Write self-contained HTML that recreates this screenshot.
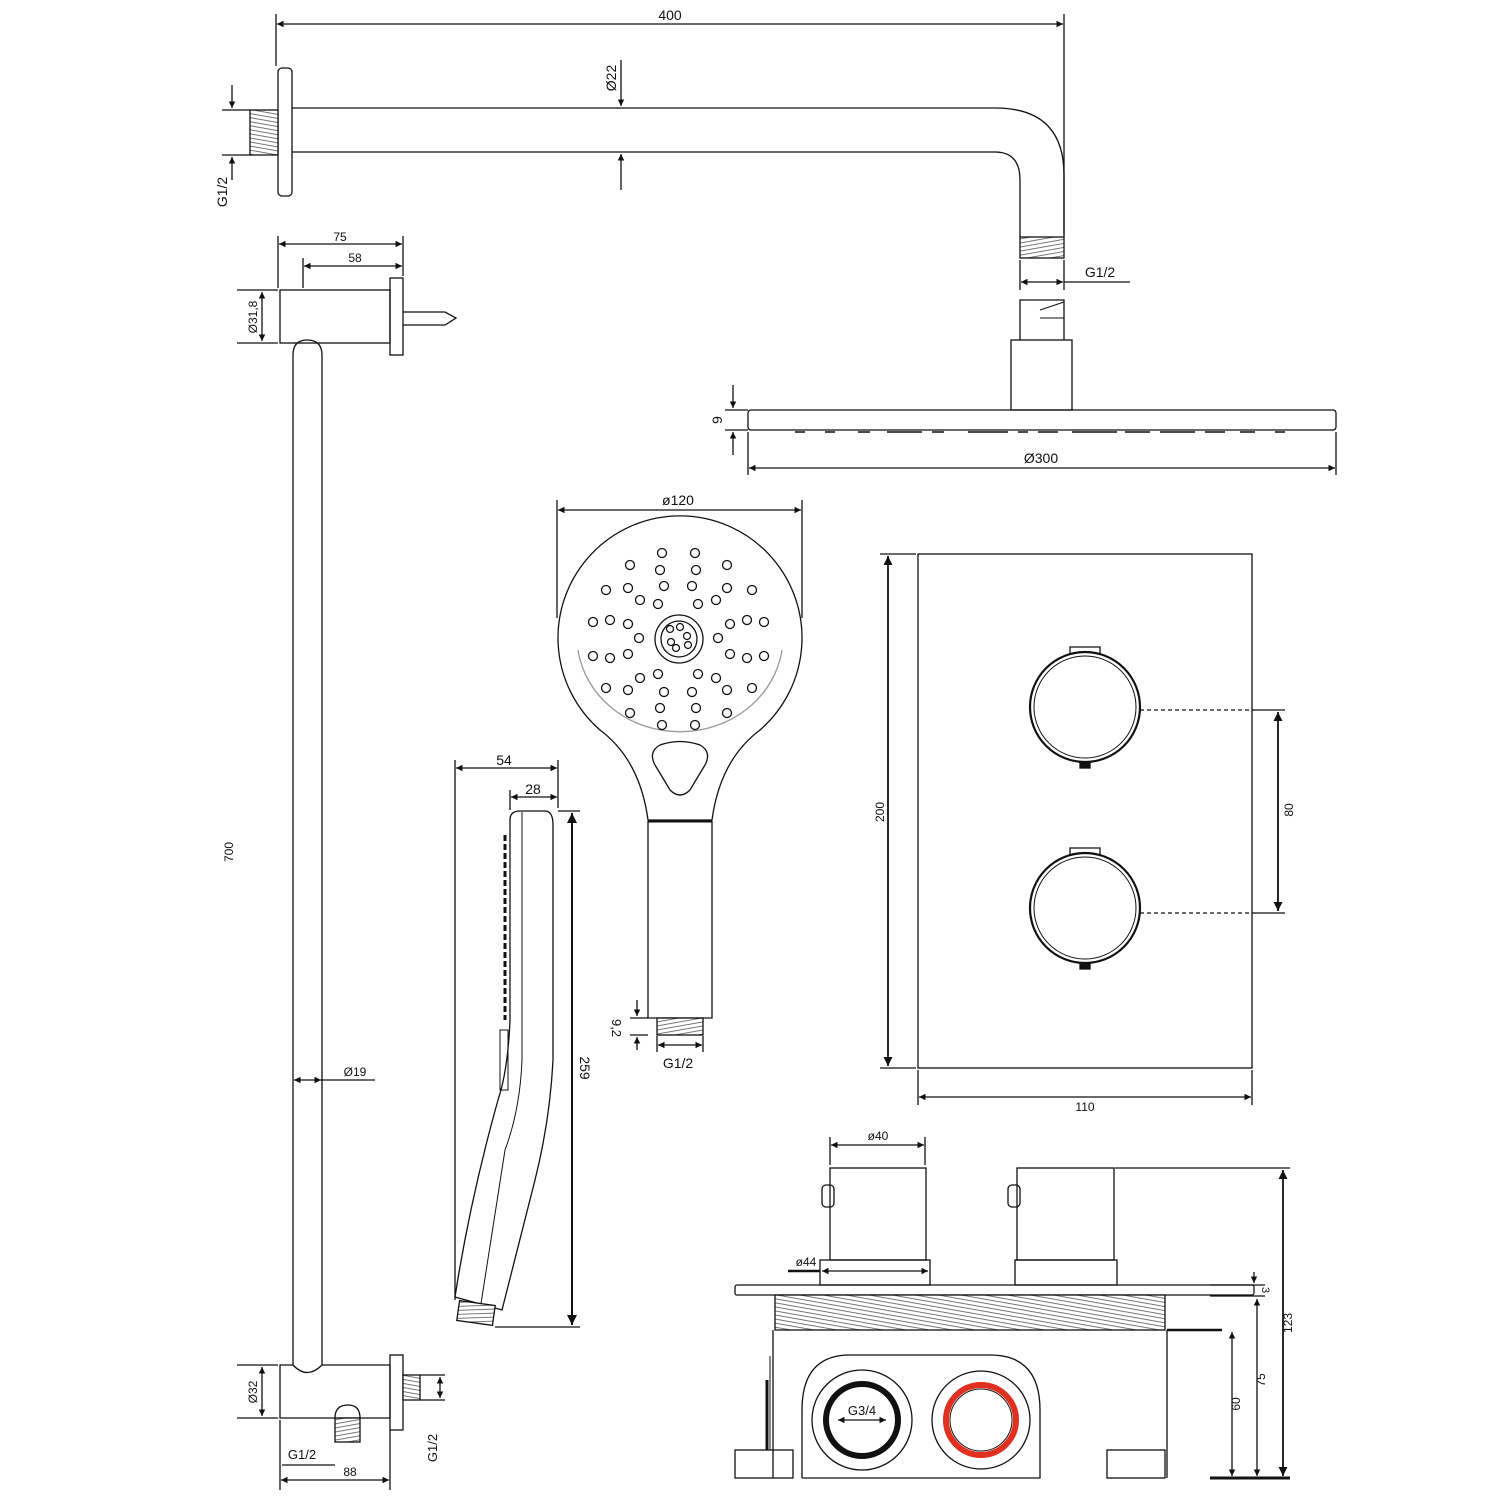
<!DOCTYPE html>
<html><head><meta charset="utf-8"><style>
html,body{margin:0;padding:0;background:#fff;}
svg{display:block;}
text{font-family:"Liberation Sans",sans-serif;fill:#111;}
</style></head><body>
<svg width="1500" height="1500" viewBox="0 0 1500 1500" xmlns="http://www.w3.org/2000/svg">
<defs>
<marker id="a" viewBox="0 0 10 10" refX="10" refY="5" markerWidth="7" markerHeight="5" orient="auto-start-reverse"><path d="M0,0 L10,5 L0,10 z" fill="#111"/></marker>
<pattern id="th" width="4" height="4" patternUnits="userSpaceOnUse" patternTransform="rotate(80)"><rect width="4" height="4" fill="#fff"/><line x1="0" y1="0" x2="0" y2="4" stroke="#555" stroke-width="1.6"/></pattern>
<pattern id="th2" width="4" height="4" patternUnits="userSpaceOnUse" patternTransform="rotate(10)"><rect width="4" height="4" fill="#fff"/><line x1="0" y1="0" x2="4" y2="0" stroke="#555" stroke-width="1.6"/></pattern>
</defs>
<g fill="none" stroke="#111" stroke-width="1.3">
<line x1="276" y1="14" x2="276" y2="66"/><line x1="1064" y1="14" x2="1064" y2="235"/>
<line x1="277" y1="24" x2="1063" y2="24" marker-start="url(#a)" marker-end="url(#a)"/>
<rect x="278" y="68" width="14" height="128" rx="4"/>
<rect x="250" y="110" width="28" height="45" fill="url(#th2)"/>
<path d="M292,108 H995 Q1064,108 1064,175 V237"/>
<path d="M292,152 H995 Q1020,152 1020,180 V237"/>
<rect x="1020" y="237" width="44" height="21" fill="url(#th)"/>
<line x1="621" y1="60" x2="621" y2="106" marker-end="url(#a)"/><line x1="621" y1="190" x2="621" y2="154" marker-end="url(#a)"/>
<line x1="232" y1="85" x2="232" y2="108" marker-end="url(#a)"/><line x1="232" y1="180" x2="232" y2="157" marker-end="url(#a)"/>
<line x1="222" y1="110" x2="250" y2="110"/><line x1="222" y1="155" x2="250" y2="155"/>
<line x1="1020" y1="260" x2="1020" y2="290"/><line x1="1064" y1="260" x2="1064" y2="290"/>
<line x1="1021" y1="282" x2="1063" y2="282" marker-start="url(#a)" marker-end="url(#a)"/><line x1="1064" y1="282" x2="1130" y2="282"/>
<path d="M1020,340 V300 H1064 V340"/><path d="M1040,310 L1064,302 M1040,318 L1064,318" stroke-width="1"/>
<rect x="1011" y="340" width="61" height="70"/>
<rect x="748" y="410" width="588" height="20" rx="3"/>
<g stroke-width="1.5">
<path d="M795,432 h10 M825,432 h10 M858,432 h12 M887,432 h35 M932,432 h12 M968,432 h40 M1018,432 h10 M1038,432 h20 M1072,432 h45 M1125,432 h25 M1160,432 h35 M1205,432 h20 M1240,432 h15 M1275,432 h10"/>
</g>
<line x1="748" y1="432" x2="748" y2="475"/><line x1="1336" y1="432" x2="1336" y2="475"/>
<line x1="749" y1="468" x2="1335" y2="468" marker-start="url(#a)" marker-end="url(#a)"/>
<line x1="733" y1="385" x2="733" y2="408" marker-end="url(#a)"/><line x1="733" y1="455" x2="733" y2="432" marker-end="url(#a)"/>
<line x1="725" y1="410" x2="748" y2="410"/><line x1="725" y1="430" x2="748" y2="430"/>
<line x1="278" y1="236" x2="278" y2="288"/><line x1="403" y1="236" x2="403" y2="276"/><line x1="303" y1="258" x2="303" y2="288"/>
<line x1="279" y1="244" x2="402" y2="244" marker-start="url(#a)" marker-end="url(#a)"/>
<line x1="304" y1="266" x2="402" y2="266" marker-start="url(#a)" marker-end="url(#a)"/>
<rect x="280" y="290" width="110" height="53"/>
<rect x="390" y="278" width="13" height="77"/>
<path d="M403,312 H445 L456,318 L445,325 H403"/>
<path d="M293,1365 V355 Q293,340 307,340 Q322,340 322,355 V1365"/>
<path d="M280,1365 H293 Q307,1380 322,1365 H390 V1418 H280 Z"/>
<rect x="390" y="1355" width="13" height="75"/>
<rect x="403" y="1375" width="17" height="25" fill="url(#th2)"/>
<path d="M335,1418 Q335,1405 348,1405 Q360,1405 360,1418"/>
<rect x="335" y="1418" width="25" height="24" fill="url(#th)"/>
<line x1="237" y1="290" x2="278" y2="290"/><line x1="237" y1="343" x2="278" y2="343"/>
<line x1="262" y1="292" x2="262" y2="341" marker-start="url(#a)" marker-end="url(#a)"/>
<line x1="237" y1="1365" x2="278" y2="1365"/><line x1="237" y1="1418" x2="278" y2="1418"/>
<line x1="262" y1="1367" x2="262" y2="1416" marker-start="url(#a)" marker-end="url(#a)"/>
<line x1="294" y1="1080" x2="321" y2="1080" marker-start="url(#a)" marker-end="url(#a)"/><line x1="321" y1="1080" x2="375" y2="1080"/>
<line x1="280" y1="1420" x2="280" y2="1490"/><line x1="390" y1="1430" x2="390" y2="1490"/>
<line x1="281" y1="1480" x2="389" y2="1480" marker-start="url(#a)" marker-end="url(#a)"/>
<line x1="282" y1="1465" x2="335" y2="1465"/>
<line x1="420" y1="1375" x2="445" y2="1375"/><line x1="420" y1="1400" x2="445" y2="1400"/>
<line x1="440" y1="1377" x2="440" y2="1398" marker-start="url(#a)" marker-end="url(#a)"/>
<line x1="557" y1="500" x2="557" y2="618"/><line x1="802" y1="500" x2="802" y2="618"/>
<line x1="558" y1="510" x2="801" y2="510" marker-start="url(#a)" marker-end="url(#a)"/>
<path d="M648,820 Q640,760 600,730 A122,122 0 1 1 760,730 Q720,760 712,820 Z"/>
<path d="M578,650 A103,95 0 0 0 782,650" stroke="#999"/>
<path d="M660,745 Q680,738 700,745 Q712,752 705,765 L690,790 Q680,800 670,790 L655,765 Q648,752 660,745 Z"/>
<line x1="648" y1="821" x2="712" y2="821" stroke-width="3"/>
<path d="M648,821 V1018 H712 V821"/>
<rect x="657" y="1018" width="46" height="17" fill="url(#th)"/>
<circle cx="679" cy="639" r="24"/><circle cx="679" cy="639" r="18"/>
<g stroke-width="1.2">
<circle cx="670" cy="629" r="3.5"/><circle cx="680" cy="627" r="3.5"/><circle cx="687" cy="636" r="3.5"/><circle cx="688" cy="645" r="3.5"/><circle cx="671" cy="642" r="3.5"/><circle cx="676" cy="648" r="3.5"/>
</g>
<line x1="648" y1="1018" x2="630" y2="1018"/><line x1="648" y1="1035" x2="630" y2="1035"/>
<line x1="637" y1="1000" x2="637" y2="1016" marker-end="url(#a)"/><line x1="637" y1="1050" x2="637" y2="1037" marker-end="url(#a)"/>
<line x1="657" y1="1036" x2="657" y2="1052"/><line x1="703" y1="1036" x2="703" y2="1052"/>
<line x1="658" y1="1045" x2="702" y2="1045" marker-start="url(#a)" marker-end="url(#a)"/>
<line x1="455" y1="760" x2="455" y2="1300"/><line x1="558" y1="760" x2="558" y2="808"/><line x1="510" y1="790" x2="510" y2="810"/>
<line x1="456" y1="768" x2="557" y2="768" marker-start="url(#a)" marker-end="url(#a)"/>
<line x1="511" y1="797" x2="557" y2="797" marker-start="url(#a)" marker-end="url(#a)"/>
<line x1="558" y1="811" x2="580" y2="811"/><line x1="495" y1="1327" x2="580" y2="1327"/>
<line x1="572" y1="813" x2="572" y2="1325" marker-start="url(#a)" marker-end="url(#a)" stroke-width="2"/>
<path d="M510,1020 V820 Q510,811 520,811 H545 Q553,811 553,825 V1060 Q550,1120 535,1180 L502,1310 L455,1297 Q470,1200 498,1100 Q508,1070 510,1020"/>
<path d="M522,812 V1060 Q520,1110 505,1150 L480,1310" stroke-width="1"/>
<path d="M505,835 V1020" stroke-width="3" stroke-dasharray="6,3"/>
<path d="M500,1030 H508 V1090 H500 Z" stroke-width="1"/>
<rect x="458" y="1303" width="36" height="20" fill="url(#th)" transform="rotate(8 476 1313)"/>
<rect x="918" y="554" width="334" height="514"/>
<circle cx="1085" cy="707" r="55" stroke-width="2.2"/><circle cx="1085" cy="707" r="51" stroke-width="1"/>
<circle cx="1085" cy="908" r="55" stroke-width="2.2"/><circle cx="1085" cy="908" r="51" stroke-width="1"/>
<path d="M1070,654 V647 H1100 V654"/><path d="M1070,855 V848 H1100 V855"/>
<rect x="1080" y="762" width="10" height="6" fill="#111"/><rect x="1080" y="963" width="10" height="6" fill="#111"/>
<line x1="1140" y1="710" x2="1252" y2="710" stroke-dasharray="4,3"/><line x1="1252" y1="710" x2="1285" y2="710"/>
<line x1="1140" y1="913" x2="1252" y2="913" stroke-dasharray="4,3"/><line x1="1252" y1="913" x2="1285" y2="913"/>
<line x1="1278" y1="712" x2="1278" y2="911" marker-start="url(#a)" marker-end="url(#a)" stroke-width="1.8"/>
<line x1="880" y1="554" x2="916" y2="554"/><line x1="880" y1="1068" x2="916" y2="1068"/>
<line x1="888" y1="556" x2="888" y2="1066" marker-start="url(#a)" marker-end="url(#a)" stroke-width="1.8"/>
<line x1="918" y1="1070" x2="918" y2="1105"/><line x1="1252" y1="1070" x2="1252" y2="1105"/>
<line x1="919" y1="1097" x2="1251" y2="1097" marker-start="url(#a)" marker-end="url(#a)"/>
<line x1="830" y1="1137" x2="830" y2="1165"/><line x1="925" y1="1137" x2="925" y2="1165"/>
<line x1="831" y1="1145" x2="924" y2="1145" marker-start="url(#a)" marker-end="url(#a)"/>
<rect x="830" y="1168" width="96" height="92"/><rect x="820" y="1260" width="110" height="25"/>
<rect x="1017" y="1168" width="97" height="92"/><rect x="1015" y="1260" width="102" height="25"/>
<rect x="822" y="1185" width="12" height="22" rx="4"/><rect x="1008" y="1185" width="12" height="22" rx="4"/>
<line x1="788" y1="1271" x2="820" y2="1271" stroke-width="2.5"/><line x1="822" y1="1271" x2="928" y2="1271" marker-start="url(#a)" marker-end="url(#a)"/>
<line x1="1115" y1="1168" x2="1290" y2="1168"/>
<rect x="735" y="1285" width="519" height="10" rx="2"/>
<rect x="775" y="1295" width="390" height="35" fill="url(#th2)"/>
<path d="M773,1330 V1478 M1167,1330 V1478"/>
<rect x="735" y="1450" width="58" height="28"/><rect x="1107" y="1450" width="58" height="28"/>
<path d="M802,1478 V1410 Q802,1355 850,1355 H990 Q1040,1355 1040,1410 V1478 H802"/>
<line x1="770" y1="1356" x2="770" y2="1450" stroke-width="1"/><line x1="767" y1="1380" x2="767" y2="1450" stroke-width="3"/>
<circle cx="862" cy="1420" r="50"/><circle cx="862" cy="1420" r="36" stroke-width="6"/>
<circle cx="981" cy="1420" r="49"/><circle cx="981" cy="1420" r="35" stroke="#e03020" stroke-width="6"/><circle cx="981" cy="1420" r="31" stroke-width="1"/>
<line x1="838" y1="1420" x2="886" y2="1420" marker-start="url(#a)" marker-end="url(#a)"/>
<line x1="1210" y1="1478" x2="1290" y2="1478" stroke-width="3"/>
<line x1="1167" y1="1330" x2="1222" y2="1330" stroke-width="2.5"/>
<line x1="1232" y1="1332" x2="1232" y2="1476" marker-start="url(#a)" marker-end="url(#a)"/>
<line x1="1257" y1="1299" x2="1257" y2="1476" marker-start="url(#a)" marker-end="url(#a)"/>
<line x1="1283" y1="1170" x2="1283" y2="1476" marker-start="url(#a)" marker-end="url(#a)" stroke-width="1.8"/>
<line x1="1210" y1="1285" x2="1265" y2="1285"/><line x1="1210" y1="1296" x2="1265" y2="1296"/>
<line x1="1254" y1="1272" x2="1254" y2="1283" marker-end="url(#a)"/>
</g>
<g fill="#fff" stroke="#111" stroke-width="1.3">
<circle cx="662" cy="553" r="4.5"/><circle cx="695" cy="553" r="4.5"/><circle cx="630" cy="565" r="4.5"/><circle cx="660" cy="570" r="4.5"/><circle cx="696" cy="570" r="4.5"/><circle cx="727" cy="565" r="4.5"/>
<circle cx="606" cy="590" r="4.5"/><circle cx="628" cy="588" r="4.5"/><circle cx="664" cy="586" r="4.5"/><circle cx="692" cy="586" r="4.5"/><circle cx="727" cy="588" r="4.5"/><circle cx="752" cy="590" r="4.5"/>
<circle cx="640" cy="600" r="4.5"/><circle cx="658" cy="604" r="4.5"/><circle cx="698" cy="604" r="4.5"/><circle cx="716" cy="600" r="4.5"/>
<circle cx="593" cy="622" r="4.5"/><circle cx="610" cy="620" r="4.5"/><circle cx="628" cy="624" r="4.5"/><circle cx="730" cy="624" r="4.5"/><circle cx="747" cy="620" r="4.5"/><circle cx="764" cy="622" r="4.5"/>
<circle cx="639" cy="638" r="4.5"/><circle cx="718" cy="638" r="4.5"/>
<circle cx="593" cy="656" r="4.5"/><circle cx="610" cy="658" r="4.5"/><circle cx="628" cy="654" r="4.5"/><circle cx="730" cy="654" r="4.5"/><circle cx="747" cy="658" r="4.5"/><circle cx="764" cy="656" r="4.5"/>
<circle cx="640" cy="678" r="4.5"/><circle cx="658" cy="674" r="4.5"/><circle cx="698" cy="674" r="4.5"/><circle cx="716" cy="678" r="4.5"/>
<circle cx="606" cy="688" r="4.5"/><circle cx="628" cy="690" r="4.5"/><circle cx="664" cy="692" r="4.5"/><circle cx="692" cy="692" r="4.5"/><circle cx="727" cy="690" r="4.5"/><circle cx="752" cy="688" r="4.5"/>
<circle cx="630" cy="713" r="4.5"/><circle cx="660" cy="708" r="4.5"/><circle cx="696" cy="708" r="4.5"/><circle cx="727" cy="713" r="4.5"/><circle cx="662" cy="725" r="4.5"/><circle cx="695" cy="725" r="4.5"/>
</g>
<g font-size="14">
<text x="670" y="20" text-anchor="middle">400</text>
<text transform="translate(616,78) rotate(-90)" text-anchor="middle">Ø22</text>
<text transform="translate(227,192) rotate(-90)" text-anchor="middle">G1/2</text>
<text x="1100" y="277" text-anchor="middle">G1/2</text>
<text transform="translate(722,420) rotate(-90)" text-anchor="middle">9</text>
<text x="1041" y="463" text-anchor="middle">Ø300</text>
<text x="340" y="241" text-anchor="middle" font-size="12">75</text>
<text x="355" y="262" text-anchor="middle" font-size="12">58</text>
<text transform="translate(257,317) rotate(-90)" text-anchor="middle" font-size="12">Ø31,8</text>
<text transform="translate(233,852) rotate(-90)" text-anchor="middle" font-size="12">700</text>
<text x="355" y="1076" text-anchor="middle" font-size="12">Ø19</text>
<text transform="translate(257,1392) rotate(-90)" text-anchor="middle" font-size="12">Ø32</text>
<text x="302" y="1459" text-anchor="middle" font-size="13">G1/2</text>
<text x="350" y="1476" text-anchor="middle" font-size="12">88</text>
<text transform="translate(437,1448) rotate(-90)" text-anchor="middle" font-size="13">G1/2</text>
<text x="678" y="505" text-anchor="middle">ø120</text>
<text x="504" y="765" text-anchor="middle">54</text>
<text x="533" y="794" text-anchor="middle">28</text>
<text transform="translate(580,1068) rotate(90)" text-anchor="middle">259</text>
<text transform="translate(612,1028) rotate(90)" text-anchor="middle" font-size="13">9,2</text>
<text x="678" y="1068" text-anchor="middle">G1/2</text>
<text transform="translate(884,812) rotate(-90)" text-anchor="middle" font-size="12">200</text>
<text x="1085" y="1111" text-anchor="middle" font-size="12">110</text>
<text transform="translate(1293,810) rotate(-90)" text-anchor="middle" font-size="12">80</text>
<text x="878" y="1140" text-anchor="middle" font-size="12">ø40</text>
<text x="806" y="1266" text-anchor="middle" font-size="12">ø44</text>
<text x="862" y="1415" text-anchor="middle" font-size="13">G3/4</text>
<text transform="translate(1240,1404) rotate(-90)" text-anchor="middle" font-size="12">60</text>
<text transform="translate(1265,1380) rotate(-90)" text-anchor="middle" font-size="12">75</text>
<text transform="translate(1292,1323) rotate(-90)" text-anchor="middle" font-size="12">123</text>
<text transform="translate(1262,1290) rotate(90)" text-anchor="middle" font-size="11">3</text>
</g>
</svg>
</body></html>
